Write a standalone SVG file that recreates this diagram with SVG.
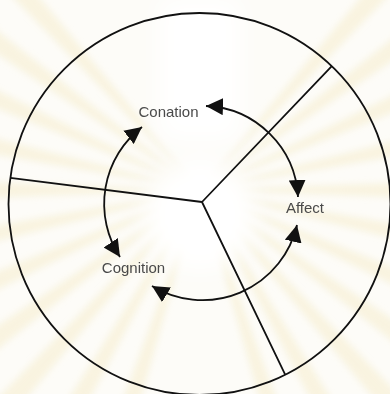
<svg xmlns="http://www.w3.org/2000/svg" xmlns:xlink="http://www.w3.org/1999/xlink" width="390" height="394" viewBox="0 0 390 394">
  <style>
    .ring { fill: none; stroke: #111; stroke-width: 1.8; }
    .divider { stroke: #111; stroke-width: 1.8; fill: none; }
    .link { fill: none; stroke: #111; stroke-width: 1.8; marker-start: url(#head); marker-end: url(#head); }
    .label { font-family: "Liberation Sans", Arial, Helvetica, sans-serif; font-size: 15px; fill: #4a4a4a; text-anchor: middle; }
    .ray { fill: #f5ecc9; }
  </style>
  <defs>
    <marker id="head" markerUnits="userSpaceOnUse" markerWidth="18" markerHeight="17" refX="17" refY="8.5" orient="auto-start-reverse" viewBox="0 0 18 17">
      <path d="M0,0 L17,8.5 L0,17 Z" fill="#111"/>
    </marker>
    <filter id="soft" x="-20%" y="-20%" width="140%" height="140%">
      <feGaussianBlur stdDeviation="3"/>
    </filter>
    <filter id="softer" x="-50%" y="-50%" width="200%" height="200%">
      <feGaussianBlur stdDeviation="12"/>
    </filter>
    <path id="ray" d="M200,190 L620,174 L620,206 Z"/>
  </defs>

  <g id="background">
    <rect x="0" y="0" width="390" height="394" fill="#fdfcf8"/>
    <g filter="url(#soft)" class="ray" opacity="0.5">
      <use xlink:href="#ray" transform="rotate(0 200 190)"/>
      <use xlink:href="#ray" transform="rotate(12 200 190)"/>
      <use xlink:href="#ray" transform="rotate(24 200 190)"/>
      <use xlink:href="#ray" transform="rotate(36 200 190)"/>
      <use xlink:href="#ray" transform="rotate(48 200 190)"/>
      <use xlink:href="#ray" transform="rotate(60 200 190)"/>
      <use xlink:href="#ray" transform="rotate(72 200 190)"/>
      <use xlink:href="#ray" transform="rotate(108 200 190)"/>
      <use xlink:href="#ray" transform="rotate(120 200 190)"/>
      <use xlink:href="#ray" transform="rotate(132 200 190)"/>
      <use xlink:href="#ray" transform="rotate(144 200 190)"/>
      <use xlink:href="#ray" transform="rotate(156 200 190)"/>
      <use xlink:href="#ray" transform="rotate(168 200 190)"/>
      <use xlink:href="#ray" transform="rotate(180 200 190)"/>
      <use xlink:href="#ray" transform="rotate(192 200 190)"/>
      <use xlink:href="#ray" transform="rotate(204 200 190)"/>
      <use xlink:href="#ray" transform="rotate(216 200 190)"/>
      <use xlink:href="#ray" transform="rotate(228 200 190)"/>
      <use xlink:href="#ray" transform="rotate(312 200 190)"/>
      <use xlink:href="#ray" transform="rotate(324 200 190)"/>
      <use xlink:href="#ray" transform="rotate(336 200 190)"/>
      <use xlink:href="#ray" transform="rotate(348 200 190)"/>
    </g>
    <g filter="url(#softer)" fill="#ffffff">
      <rect x="160" y="0" width="80" height="140"/>
      <circle cx="200" cy="215" r="55"/>
    </g>
  </g>

  <g id="frame">
    <circle class="ring" cx="199.5" cy="204" r="191"/>
    <path class="divider" d="M202,202 L10.3,177.9 M202,202 L331.8,66.2 M202,202 L285.2,374.7"/>
  </g>

  <g id="connectors">
    <path id="conation-affect" class="link" d="M206,106 A96,96 0 0 1 298,197"/>
    <path id="conation-cognition" class="link" d="M142,127 A97,97 0 0 0 120,257"/>
    <path id="cognition-affect" class="link" d="M152,286 A97,97 0 0 0 297,225"/>
  </g>

  <g id="node-conation">
    <text class="label" x="168.5" y="117">Conation</text>
  </g>
  <g id="node-affect">
    <text class="label" x="305" y="212.5">Affect</text>
  </g>
  <g id="node-cognition">
    <text class="label" x="133.5" y="272.5">Cognition</text>
  </g>
</svg>
